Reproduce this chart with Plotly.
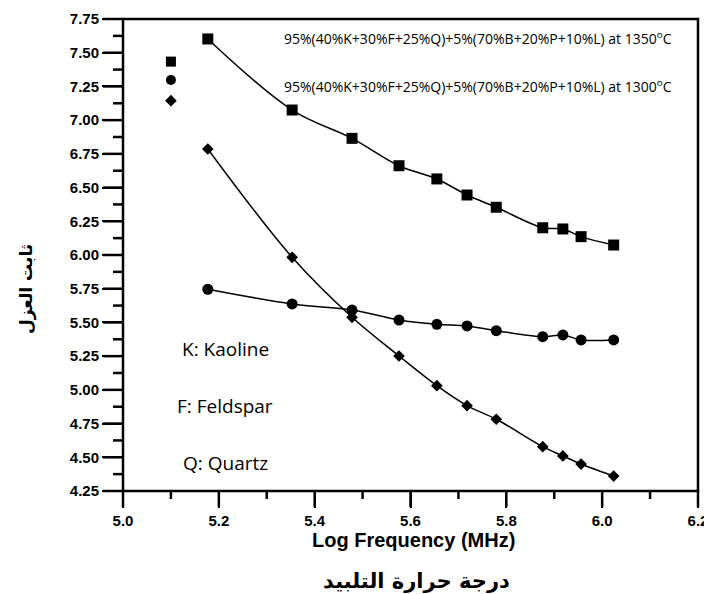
import plotly.graph_objects as go

# ---- data ----
log_freq = [5.177, 5.353, 5.478, 5.576, 5.655, 5.718, 5.779, 5.876, 5.918, 5.956, 6.024]
eps_1350 = [7.602, 7.075, 6.865, 6.662, 6.564, 6.445, 6.354, 6.202, 6.193, 6.136, 6.074]
eps_1300 = [5.746, 5.637, 5.592, 5.518, 5.486, 5.474, 5.439, 5.394, 5.407, 5.370, 5.370]
eps_third = [6.786, 5.983, 5.538, 5.251, 5.031, 4.883, 4.782, 4.579, 4.510, 4.450, 4.361]

key_x = [5.1, 5.1, 5.1]
key_y = [7.434, 7.298, 7.144]
key_symbols = ["square", "circle", "diamond"]

x_major = [5.0, 5.2, 5.4, 5.6, 5.8, 6.0, 6.2]
x_minor = [5.1, 5.3, 5.5, 5.7, 5.9, 6.1]
y_major = [4.25, 4.50, 4.75, 5.00, 5.25, 5.50, 5.75, 6.00, 6.25, 6.50, 6.75, 7.00, 7.25, 7.50, 7.75]
y_minor = [4.375, 4.625, 4.875, 5.125, 5.375, 5.625, 5.875, 6.125, 6.375, 6.625, 6.875,
           7.125, 7.375, 7.625]
X_RANGE = [5.0, 6.2]
Y_RANGE = [4.25, 7.75]

label_1350 = "95%(40%K+30%F+25%Q)+5%(70%B+20%P+10%L) at 1350<sup>o</sup>C"
label_1300 = "95%(40%K+30%F+25%Q)+5%(70%B+20%P+10%L) at 1300<sup>o</sup>C"
notes = ["K: Kaoline", "F: Feldspar", "Q: Quartz"]

x_title = "Log Frequency (MHz)"
y_title = "ثابت العزل"
bottom_title = "درجة حرارة التلبيد"

# ---- geometry (page has an 8px body margin: figure placed at (8, 8)) ----
OFF = 8
W, H = 712 - OFF, 594 - OFF
L, R, T, B = 123 - OFF, 14, 19 - OFF, 103
PW, PH = W - L - R, H - T - B

fig = go.Figure()

series = [
    (eps_1350, "square", 11),
    (eps_1300, "circle", 11),
    (eps_third, "diamond", 9),
]
for ys, sym, size in series:
    fig.add_trace(go.Scatter(
        x=log_freq, y=ys, mode="lines+markers",
        line=dict(color="black", width=1.5, shape="spline", smoothing=1.0),
        marker=dict(symbol=sym, size=size, color="black"),
        showlegend=False, hoverinfo="skip",
    ))

for kx, ky, ks, sz in zip(key_x, key_y, key_symbols, [10, 10, 9]):
    fig.add_trace(go.Scatter(
        x=[kx], y=[ky], mode="lines+markers",
        line=dict(color="black", width=1),
        marker=dict(symbol=ks, size=sz, color="black", opacity=1),
        showlegend=False, hoverinfo="skip",
    ))


# ---- frame and tick marks as an overlay in figure-pixel space ----
def xpix(v):
    return L + (v - X_RANGE[0]) / (X_RANGE[1] - X_RANGE[0]) * PW


def ypix(v):
    return T + (Y_RANGE[1] - v) / (Y_RANGE[1] - Y_RANGE[0]) * PH


fx = [L, W - R, W - R, L, L]
fy = [T, T, H - B, H - B, T]
tx, ty = [], []
for v, ln in [(v, 20) for v in y_major] + [(v, 10) for v in y_minor]:
    tx += [L - ln, L, None]
    ty += [ypix(v), ypix(v), None]
for v, ln in [(v, 16) for v in x_major] + [(v, 8) for v in x_minor]:
    tx += [xpix(v), xpix(v), None]
    ty += [H - B, H - B + ln, None]

fig.add_trace(go.Scatter(x=fx, y=fy, xaxis="x2", yaxis="y2", mode="lines",
                         line=dict(color="black", width=2.5), showlegend=False, hoverinfo="skip"))
fig.add_trace(go.Scatter(x=tx, y=ty, xaxis="x2", yaxis="y2", mode="lines",
                         line=dict(color="black", width=2.5), showlegend=False, hoverinfo="skip",
                         connectgaps=False))

tickfont = dict(family="Liberation Sans", size=15, color="black", weight="bold")

fig.update_layout(
    xaxis=dict(
        domain=[L / W, (W - R) / W], range=X_RANGE, tickvals=x_major, tickformat=".1f",
        showline=False, ticks="outside", ticklen=16, tickwidth=2, tickcolor="black",
        showgrid=False, zeroline=False, tickfont=tickfont, anchor="y",
    ),
    yaxis=dict(
        domain=[B / H, (H - T) / H], range=Y_RANGE, tickvals=y_major, tickformat=".2f",
        showline=False, ticks="outside", ticklen=20, tickwidth=2, tickcolor="black",
        showgrid=False, zeroline=False, tickfont=tickfont, anchor="x",
    ),
    xaxis2=dict(domain=[0, 1], range=[0, W], visible=False, anchor="y2", fixedrange=True),
    yaxis2=dict(domain=[0, 1], range=[H, 0], visible=False, anchor="x2", fixedrange=True),
)


def to_paper(px, py):
    # px, py are page pixel coordinates
    return (px - OFF) / W, 1 - (py - OFF) / H


anns = []
for lab, ypx in [(label_1350, 38), (label_1300, 86)]:
    x, y = to_paper(282, ypx)
    anns.append(dict(
        x=x, y=y, xref="paper", yref="paper", text=lab, showarrow=False,
        xanchor="left", yanchor="middle",
        font=dict(family="Open Sans", size=14, color="black"),
    ))
for lab, ypx in zip(notes, [349, 406, 463]):
    x, y = to_paper(225, ypx)
    anns.append(dict(
        x=x, y=y, xref="paper", yref="paper", text=lab, showarrow=False,
        xanchor="center", yanchor="middle",
        font=dict(family="Open Sans", size=19, color="black"),
    ))

x, y = to_paper(413, 540)
anns.append(dict(x=x, y=y, xref="paper", yref="paper", text=x_title, showarrow=False,
                 xanchor="center", yanchor="middle",
                 font=dict(family="Liberation Sans", size=20, color="black", weight="bold")))
x, y = to_paper(416, 581)
anns.append(dict(x=x, y=y, xref="paper", yref="paper", text=bottom_title, showarrow=False,
                 xanchor="center", yanchor="middle",
                 font=dict(family="DejaVu Sans", size=21, color="black", weight="bold")))
x, y = to_paper(27, 289)
anns.append(dict(x=x, y=y, xref="paper", yref="paper", text=y_title, showarrow=False,
                 xanchor="center", yanchor="middle", textangle=-90,
                 font=dict(family="DejaVu Sans", size=17, color="black", weight="bold")))

fig.update_layout(
    template="none",
    width=W, height=H,
    margin=dict(l=0, r=0, t=0, b=0, pad=0, autoexpand=False),
    paper_bgcolor="white", plot_bgcolor="rgba(0,0,0,0)",
    annotations=anns,
)

fig.write_html("out.html")
